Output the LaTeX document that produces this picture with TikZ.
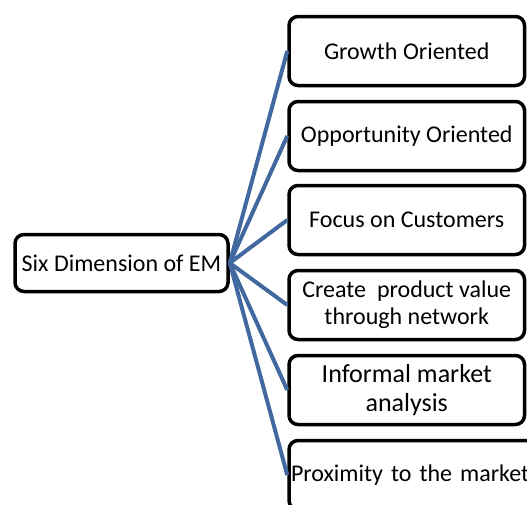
\documentclass[tikz,border=0pt]{standalone}
\usepackage{fontspec}
\setmainfont{Carlito}
\begin{document}
\begin{tikzpicture}[x=1pt,y=-1pt,
  box/.style={draw=black,line width=3.5pt,rounded corners=9pt,fill=white,
    inner sep=0pt,align=center,font=\fontsize{24}{27}\selectfont},
  rbox/.style={box,minimum width=235.5pt,minimum height=69pt},
  link/.style={draw=linkblue,line width=4pt}]
\definecolor{linkblue}{RGB}{65,105,160}
\clip (0,0) rectangle (527,504);
% root node
\node[box,minimum width=213pt,minimum height=57pt] (em) at (121.5,263) {Six Dimension of EM};
% the six dimensions
\node[rbox] (b1) at (406.75,51) {Growth Oriented};
\node[rbox] (b2) at (406.75,136) {Opportunity Oriented};
\node[rbox] (b3) at (406.75,220) {Focus on Customers};
\node[rbox] (b4) at (406.75,305) {Create\ \ product value\\through network};
\node[rbox,font=\fontsize{26}{29}\selectfont] (b5) at (406.75,390) {Informal market\\analysis};
\node[box,anchor=west,minimum height=69pt,text width=256pt,align=left,inner xsep=2pt] (b6) at (287.25,475) {Proximity to the market};
% connectors
\foreach \b in {b1,b2,b3,b4,b5,b6}
  \draw[link] (em.east) -- (\b.west);
\end{tikzpicture}
\end{document}
